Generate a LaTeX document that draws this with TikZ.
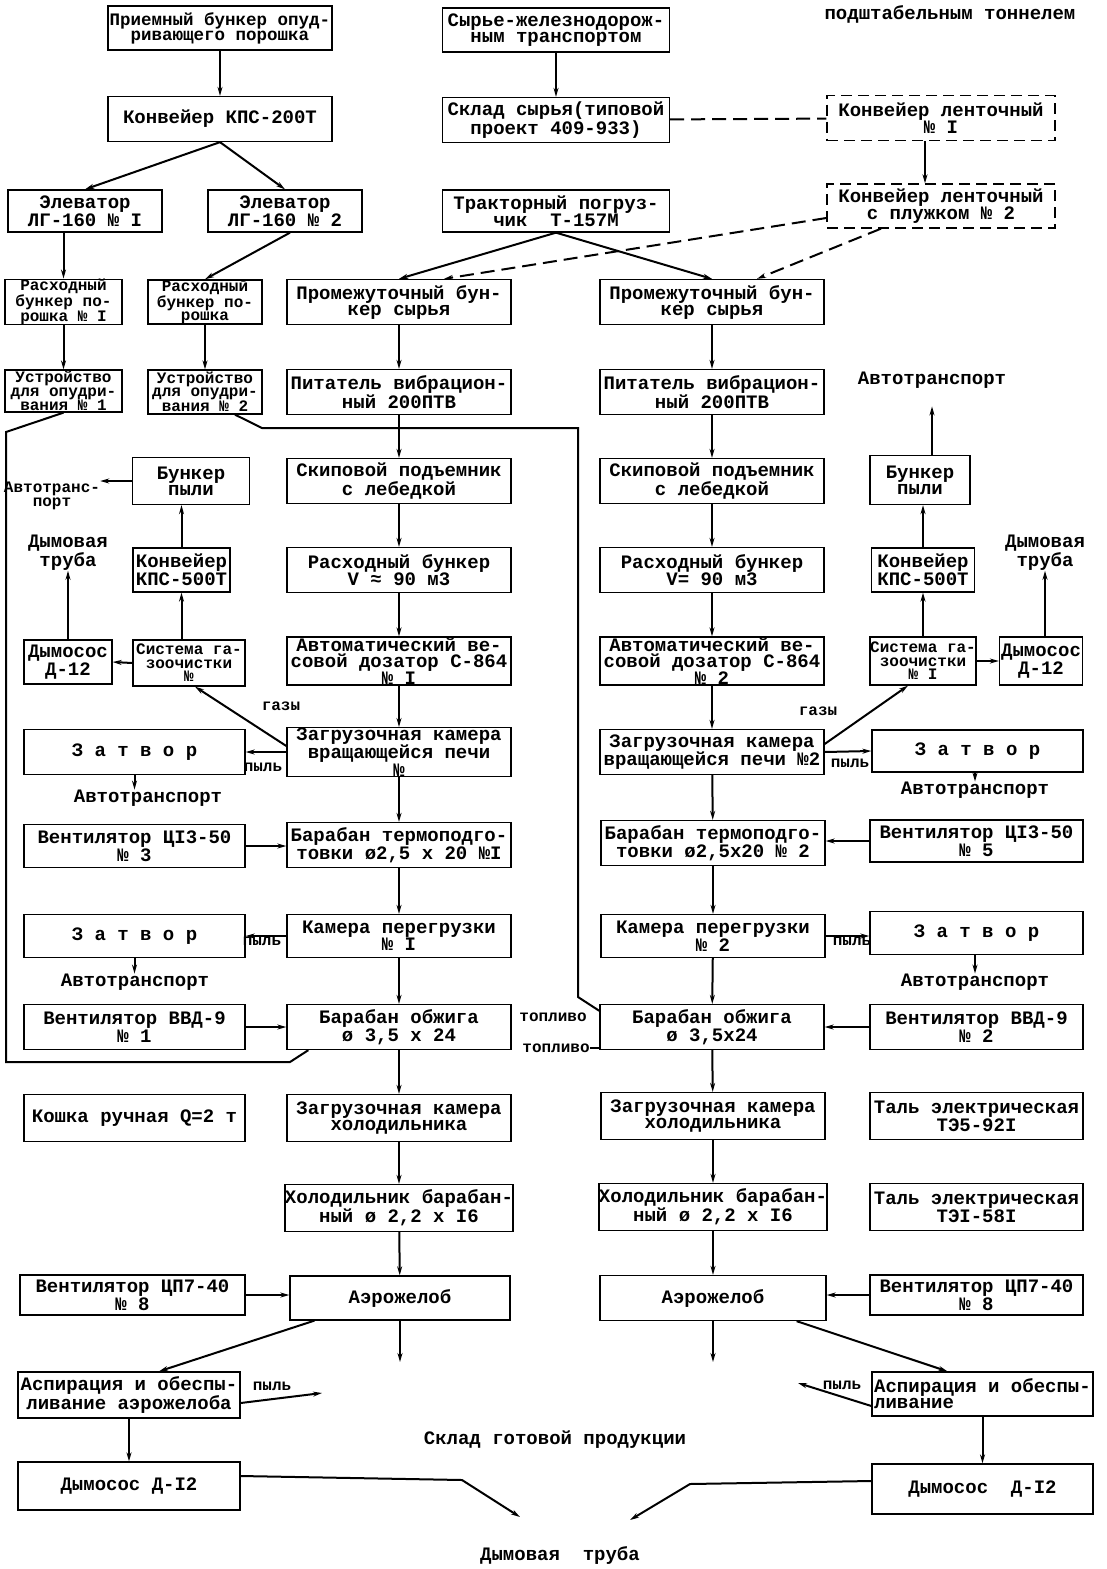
\documentclass[tikz,border=0pt]{standalone}
\usepackage{fontspec}
\setmonofont{Liberation Mono}
\usetikzlibrary{positioning,arrows.meta}

\newcommand\tw{\ttfamily\bfseries\fontsize{19}{16}\selectfont}
\newcommand\twm{\ttfamily\bfseries\fontsize{17.5}{15}\selectfont}
\newcommand\tws{\ttfamily\bfseries\fontsize{16}{13.5}\selectfont}

\begin{document}
\begin{tikzpicture}[x=1pt,y=-1pt,
  >={Stealth[length=9pt,width=5pt]},
  box/.style={draw,line width=1.3pt,inner sep=0pt,align=center,font=\tw},
  nbox/.style={box,font=\tws},
  col/.style={box,minimum width=224,minimum height=45},
  dbox/.style={box,dash pattern=on 11pt off 6pt},
  lbl/.style={inner sep=0pt,align=center,font=\tw},
  slbl/.style={inner sep=0pt,align=center,font=\tws},
  con/.style={line width=2pt},
  dcon/.style={con,dash pattern=on 14pt off 7pt}
]
\fill[white] (0,0) rectangle (1107,1569);
\useasboundingbox (0,0) rectangle (1107,1569);

% top part
\node[box,font=\twm,minimum width=224,minimum height=44] (prb) at (220,28) {Приемный бункер опуд-\\ривающего порошка};
\node[box,minimum width=224,minimum height=45] (kps) at (220,119) {Конвейер КПС-200Т};
\node[box,minimum width=154,minimum height=42] (el1) at (85,211) {Элеватор\\ЛГ-160 № I};
\node[box,minimum width=154,minimum height=42] (el2) at (285,211) {Элеватор\\ЛГ-160 № 2};
\node[box,minimum width=227,minimum height=44] (srj) at (556,30) {Сырье-железнодорож-\\ным транспортом};
\node[box,minimum width=227,minimum height=45] (skl) at (556,120) {Склад сырья(типовой\\проект 409-933)};
\node[box,minimum width=227,minimum height=42] (trk) at (556,211) {Тракторный погруз-\\чик~~Т-157М};
\node[dbox,minimum width=228,minimum height=45] (kl1) at (941,118) {Конвейер ленточный\\№ I};
\node[dbox,minimum width=228,minimum height=44] (kl2) at (941,206) {Конвейер ленточный\\с плужком № 2};
\node[lbl] (tun) at (950,14) {подштабельным тоннелем};

\node[nbox,minimum width=117,minimum height=43] (rb1) at (63.5,302) {Расходный\\бункер по-\\рошка № I};
\node[nbox,minimum width=114,minimum height=43] (rb2) at (205,302) {Расходный\\бункер по-\\рошка};
\node[col] (pb1) at (399,302) {Промежуточный бун-\\кер сырья};
\node[col] (pb2) at (712,302) {Промежуточный бун-\\кер сырья};

\node[nbox,minimum width=117,minimum height=42] (us1) at (63.5,391) {Устройство\\для опудри-\\вания № 1};
\node[nbox,minimum width=114,minimum height=44] (us2) at (205,392) {Устройство\\для опудри-\\вания № 2};
\node[col] (pit1) at (399,392) {Питатель вибрацион-\\ный 200ПТВ};
\node[col] (pit2) at (712,392) {Питатель вибрацион-\\ный 200ПТВ};
\node[lbl] (atr1) at (932,380) {Автотранспорт};

% kilns
\node[slbl] (atl1) at (52,496) {Автотранс-\\порт};
\node[box,minimum width=117,minimum height=47] (bp1) at (191,481) {Бункер\\пыли};
\node[col] (sk1) at (399,481) {Скиповой подъемник\\с лебедкой};
\node[col] (sk2) at (712,481) {Скиповой подъемник\\с лебедкой};
\node[box,minimum width=100,minimum height=49] (bp2) at (920,480) {Бункер\\пыли};

\node[lbl] (dt1) at (68,553) {Дымовая\\труба};
\node[box,minimum width=97,minimum height=44] (kp1) at (181.5,570) {Конвейер\\КПС-500Т};
\node[col] (rs1) at (399,570) {Расходный бункер\\V ≈ 90 м3};
\node[col] (rs2) at (712,570) {Расходный бункер\\V= 90 м3};
\node[box,minimum width=103,minimum height=44] (kp2) at (923,570) {Конвейер\\КПС-500Т};
\node[lbl] (dt2) at (1045,553) {Дымовая\\труба};

\node[box,minimum width=88,minimum height=44] (dm1) at (68,662) {Дымосос\\Д-12};
\node[nbox,minimum width=112,minimum height=46] (sg1) at (189,663) {Система га-\\зоочистки\\№};
\node[col,minimum height=48] (ad1) at (399,661) {Автоматический ве-\\совой дозатор С-864\\№ I};
\node[col,minimum height=48] (ad2) at (712,661) {Автоматический ве-\\совой дозатор С-864\\№ 2};
\node[nbox,minimum width=106,minimum height=48] (sg2) at (923,661) {Система га-\\зоочистки\\№ I};
\node[box,minimum width=83,minimum height=48] (dm2) at (1041,661) {Дымосос\\Д-12};
\node[slbl] (gz1) at (281,706) {газы};
\node[slbl] (gz2) at (818,711) {газы};

\node[box,minimum width=221,minimum height=45] (zt1) at (134.5,752) {З а т в о р};
\node[col] (zk1) at (399,752) {Загрузочная камера\\вращающейся печи\\№};
\node[col] (zk2) at (712,752) {Загрузочная камера\\вращающейся печи №2};
\node[box,minimum width=211,minimum height=42] (zt2) at (977.5,751) {З а т в о р};
\node[slbl] (py1) at (263,767) {пыль};
\node[slbl] (py2) at (850,763) {пыль};
\node[lbl] (atl2) at (148,798) {Автотранспорт};
\node[lbl] (atr2) at (975,790) {Автотранспорт};

\node[box,minimum width=221,minimum height=43] (vc1) at (134.5,846) {Вентилятор ЦI3-50\\№ 3};
\node[col] (bt1) at (399,845) {Барабан термоподго-\\товки ø2,5 x 20 №I};
\node[col] (bt2) at (713,843) {Барабан термоподго-\\товки ø2,5x20 № 2};
\node[box,minimum width=213,minimum height=42] (vc2) at (976.5,841) {Вентилятор ЦI3-50\\№ 5};

\node[box,minimum width=221,minimum height=43] (zt3) at (134.5,936) {З а т в о р};
\node[col,minimum height=43] (kg1) at (399,936) {Камера перегрузки\\№ I};
\node[col,minimum height=43] (kg2) at (713,936) {Камера перегрузки\\№ 2};
\node[box,minimum width=213,minimum height=43] (zt4) at (976.5,933) {З а т в о р};
\node[slbl] (py3) at (262,941) {пыль};
\node[slbl] (py4) at (852,941) {пыль};
\node[lbl] (atl3) at (135,982) {Автотранспорт};
\node[lbl] (atr3) at (975,982) {Автотранспорт};

\node[box,minimum width=221,minimum height=45] (vv1) at (134.5,1027) {Вентилятор ВВД-9\\№ 1};
\node[col] (bo1) at (399,1027) {Барабан обжига\\ø 3,5 x 24};
\node[col] (bo2) at (712,1027) {Барабан обжига\\ø 3,5x24};
\node[box,minimum width=213,minimum height=45] (vv2) at (976.5,1027) {Вентилятор ВВД-9\\№ 2};
\node[slbl] (tp1) at (553,1017) {топливо};
\node[slbl] (tp2) at (556,1048) {топливо};

% cooling
\node[box,minimum width=221,minimum height=47] (ksh) at (134.5,1118) {Кошка ручная Q=2 т};
\node[col,minimum height=47] (zh1) at (399,1118) {Загрузочная камера\\холодильника};
\node[col,minimum height=47] (zh2) at (713,1116) {Загрузочная камера\\холодильника};
\node[box,minimum width=213,minimum height=47] (tl1) at (976.5,1116) {Таль электрическая\\ТЭ5-92I};

\node[col,minimum height=47] (hl1) at (399,1208) {Холодильник барабан-\\ный ø 2,2 x I6};
\node[col,minimum height=47] (hl2) at (713,1207) {Холодильник барабан-\\ный ø 2,2 x I6};
\node[box,minimum width=213,minimum height=47] (tl2) at (976.5,1207) {Таль электрическая\\ТЭI-58I};

\node[box,minimum width=225,minimum height=40] (vp1) at (132.5,1295) {Вентилятор ЦП7-40\\№ 8};
\node[box,minimum width=220,minimum height=44] (ae1) at (400,1298) {Аэрожелоб};
\node[box,minimum width=226,minimum height=45] (ae2) at (713,1298) {Аэрожелоб};
\node[box,minimum width=213,minimum height=40] (vp2) at (976.5,1295) {Вентилятор ЦП7-40\\№ 8};

\node[box,minimum width=222,minimum height=46] (as1) at (129,1395) {Аспирация и обеспы-\\ливание аэрожелоба};
\node[box,align=left,minimum width=221,minimum height=44] (as2) at (982.5,1394) {Аспирация и обеспы-\\ливание};
\node[slbl] (py5) at (272,1386) {пыль};
\node[slbl] (py6) at (842,1385) {пыль};
\node[lbl] (sgp) at (555,1440) {Склад готовой продукции};

\node[box,minimum width=222,minimum height=48] (dmb1) at (129,1486) {Дымосос Д-I2};
\node[box,minimum width=221,minimum height=50] (dmb2) at (982.5,1489) {Дымосос~~Д-I2};
\node[lbl] (dtb) at (560,1555) {Дымовая~~труба};

\coordinate (e1) at (400,1362);
\coordinate (e2) at (713,1362);
\coordinate (ps1) at (322,1393);
\coordinate (ps2) at (798,1383);
\coordinate (sm1) at (520,1517);
\coordinate (sm2) at (630,1520);

% raw material and powder
\draw[con,->] (prb) -- (kps);
\draw[con,->] (kps.south) -- (el1.north);
\draw[con,->] (kps.south) -- (el2.north);
\draw[con,->] (srj) -- (skl);
\draw[dcon] (skl) -- (kl1);
\draw[con,->] ([xshift=-16pt]kl1.south) -- ([xshift=-16pt]kl2.north);
\draw[con,->] (trk.south) -- (pb1.north);
\draw[con,->] (trk.south) -- (pb2.north);
\draw[dcon,->] ([yshift=-12pt]kl2.west) -- ([xshift=45pt]pb1.north);
\draw[dcon,->] ([xshift=-60pt]kl2.south) -- ([xshift=45pt]pb2.north);
\draw[con,->] (el1.south -| rb1) -- (rb1.north);
\draw[con,->] ([xshift=5pt]el2.south) -- (rb2.north);
\draw[con,->] (rb1) -- (us1);
\draw[con,->] (rb2) -- (us2);
\draw[con] (us1.south) -- (6,432) -- (6,1062) -- (290,1062) -- ([xshift=22pt]bo1.south west);
\draw[con] ([xshift=30pt]us2.south) -- (262,428) -- (578,428) -- (578,997) -- ([yshift=-7pt]bo2.north west);

% line 1
\draw[con,->] (pb1) -- (pit1);
\draw[con,->] (pit1) -- (sk1);
\draw[con,->] (sk1) -- (rs1);
\draw[con,->] (rs1) -- (ad1);
\draw[con,->] (ad1) -- (zk1);
\draw[con,->] (zk1) -- (bt1);
\draw[con,->] (bt1) -- (kg1);
\draw[con,->] (kg1) -- (bo1);
\draw[con,->] (bo1) -- (zh1);
\draw[con,->] (zh1) -- (hl1);
\draw[con,->] (hl1) -- (ae1);
\draw[con,->] (ae1) -- (e1);

% line 2
\draw[con,->] (pb2) -- (pit2);
\draw[con,->] (pit2) -- (sk2);
\draw[con,->] (sk2) -- (rs2);
\draw[con,->] (rs2) -- (ad2);
\draw[con,->] (ad2) -- (zk2);
\draw[con,->] (zk2) -- (bt2);
\draw[con,->] (bt2) -- (kg2);
\draw[con,->] (kg2) -- (bo2);
\draw[con,->] (bo2) -- (zh2);
\draw[con,->] (zh2) -- (hl2);
\draw[con,->] (hl2) -- (ae2);
\draw[con,->] (ae2) -- (e2);

% left side
\draw[con,->] (bp1.west) -- (bp1.west -| atl1.east);
\draw[con,->] (kp1.north) -- (kp1.north |- bp1.south);
\draw[con,->] (kp1 |- sg1.north) -- (kp1.south);
\draw[con,->] (sg1.west) -- (dm1.east);
\draw[con,->] (dm1.north) -- (dt1.south);
\draw[con,->] ([yshift=6pt]zk1.west) -- ([xshift=6pt]sg1.south);
\draw[con,->] (zk1.west) -- (zt1.east);
\draw[con,->] (zt1.south) -- (zt1.south |- atl2.north);
\draw[con,->] (vc1.east) -- (vc1.east -| bt1.west);
\draw[con,->] (kg1) -- (zt3);
\draw[con,->] (zt3.south) -- (zt3.south |- atl3.north);
\draw[con,->] (vv1) -- (bo1);
\draw[con,->] (vp1.east) -- (vp1.east -| ae1.west);
\draw[con,->] ([xshift=25pt]ae1.south west) -- ([xshift=30pt]as1.north);
\draw[con,->] (as1.south) -- (dmb1.north);
\draw[con,->] ([yshift=-8pt]as1.east) -- (ps1);
\draw[con,->] ([yshift=10pt]dmb1.east) -- (462,1480) -- (sm1);

% right side
\draw[con,->] (atr1.south |- bp2.north) -- ([yshift=-18pt]atr1.south);
\draw[con,->] (kp2.north) -- (kp2.north |- bp2.south);
\draw[con,->] (sg2) -- (kp2);
\draw[con,->] (sg2.east) -- (dm2.west);
\draw[con,->] (dt2.south |- dm2.north) -- (dt2.south);
\draw[con,->] ([yshift=8pt]zk2.east) -- ([xshift=-15pt]sg2.south);
\draw[con,->] (zk2.east) -- (zt2.west);
\draw[con,->] (zt2.south -| atr2) -- (atr2.north);
\draw[con,->] (vc2.west) -- (vc2.west -| bt2.east);
\draw[con,->] (kg2.east) -- (kg2.east -| zt4.west);
\draw[con,->] (zt4.south -| atr3) -- (atr3.north);
\draw[con,->] (vv2) -- (bo2);
\draw[con] (tp2.east) -- (tp2.east -| bo2.west);
\draw[con,->] (vp2.west) -- (vp2.west -| ae2.east);
\draw[con,->] ([xshift=-30pt]ae2.south east) -- ([xshift=-35pt]as2.north);
\draw[con,->] (as2.south) -- (dmb2.north);
\draw[con,->] ([yshift=-12pt]as2.west) -- (ps2);
\draw[con,->] ([yshift=8pt]dmb2.west) -- (690,1484) -- (sm2);
\end{tikzpicture}
\end{document}
